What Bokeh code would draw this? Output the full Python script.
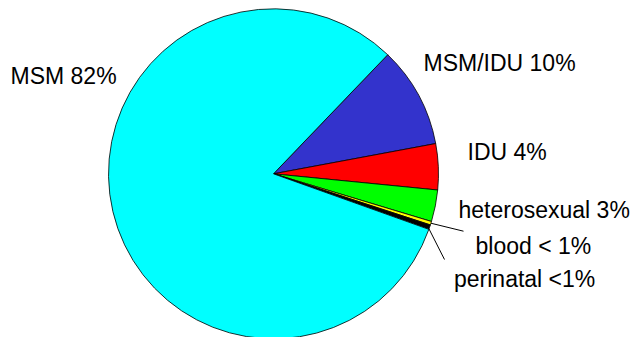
import math
from bokeh.plotting import figure
from bokeh.models import Range1d, ColumnDataSource
from bokeh.core.properties import value
from bokeh.embed import file_html
from bokeh.resources import INLINE

# ---- data (clockwise order, starting at the MSM / MSM-IDU boundary) ----
categories = ["MSM/IDU", "IDU", "heterosexual", "blood", "perinatal", "MSM"]
shares = [9.9, 4.5, 3.1, 0.35, 0.45, 81.7]
colors = ["#3333CC", "#FF0000", "#00FF00", "#FFFF00", "#000000", "#00FFFF"]
label_texts = ["MSM/IDU 10%", "IDU 4%", "heterosexual 3%", "blood < 1%",
               "perinatal <1%", "MSM 82%"]

# ---- layout (pixels, y measured from top) ----
W, H = 634, 337
CX, CY, R = 273.0, 173.3, 165.0
START_DEG = 46.2
label_x = [423, 467, 458, 475, 453.5, 10]
label_base = [62, 151.5, 209, 245.5, 278.5, 75]
leader_end = {"blood": (463, 230.7), "perinatal": (444, 259)}
leader_frac = {"blood": 0.5, "perinatal": 0.1}  # where on the slice arc the line starts

total = sum(shares)
starts, ends = [], []
cum = 0.0
for s in shares:
    a_hi = math.radians(START_DEG) - cum / total * 2 * math.pi
    cum += s
    a_lo = math.radians(START_DEG) - cum / total * 2 * math.pi
    starts.append(a_lo)
    ends.append(a_hi)

src = ColumnDataSource(dict(cat=categories, start=starts, end=ends, color=colors))

p = figure(width=W, height=H, output_backend="svg", toolbar_location=None,
           x_range=Range1d(0, W), y_range=Range1d(0, H), min_border=0)
p.axis.visible = False
p.grid.visible = False
p.outline_line_color = None
p.background_fill_color = "white"
p.border_fill_color = "white"

p.wedge(x=CX, y=H - CY, radius=R, start_angle="start", end_angle="end",
        fill_color="color", line_color="black", line_width=0.8, source=src)

# leader lines for the small slices
for name, (ex, ey) in leader_end.items():
    i = categories.index(name)
    a = starts[i] + leader_frac[name] * (ends[i] - starts[i])
    sx = CX + R * math.cos(a)
    sy = (H - CY) + R * math.sin(a)
    p.line([sx, ex], [sy, H - ey], line_color="black", line_width=1)

lab = ColumnDataSource(dict(x=label_x, y=[H - b for b in label_base], t=label_texts))
p.text(x="x", y="y", text="t", source=lab, text_font=value("Liberation Sans"),
       text_font_size="23px", text_color="black", text_align="left",
       text_baseline="alphabetic")

open("out.html", "w").write(file_html(p, INLINE))
